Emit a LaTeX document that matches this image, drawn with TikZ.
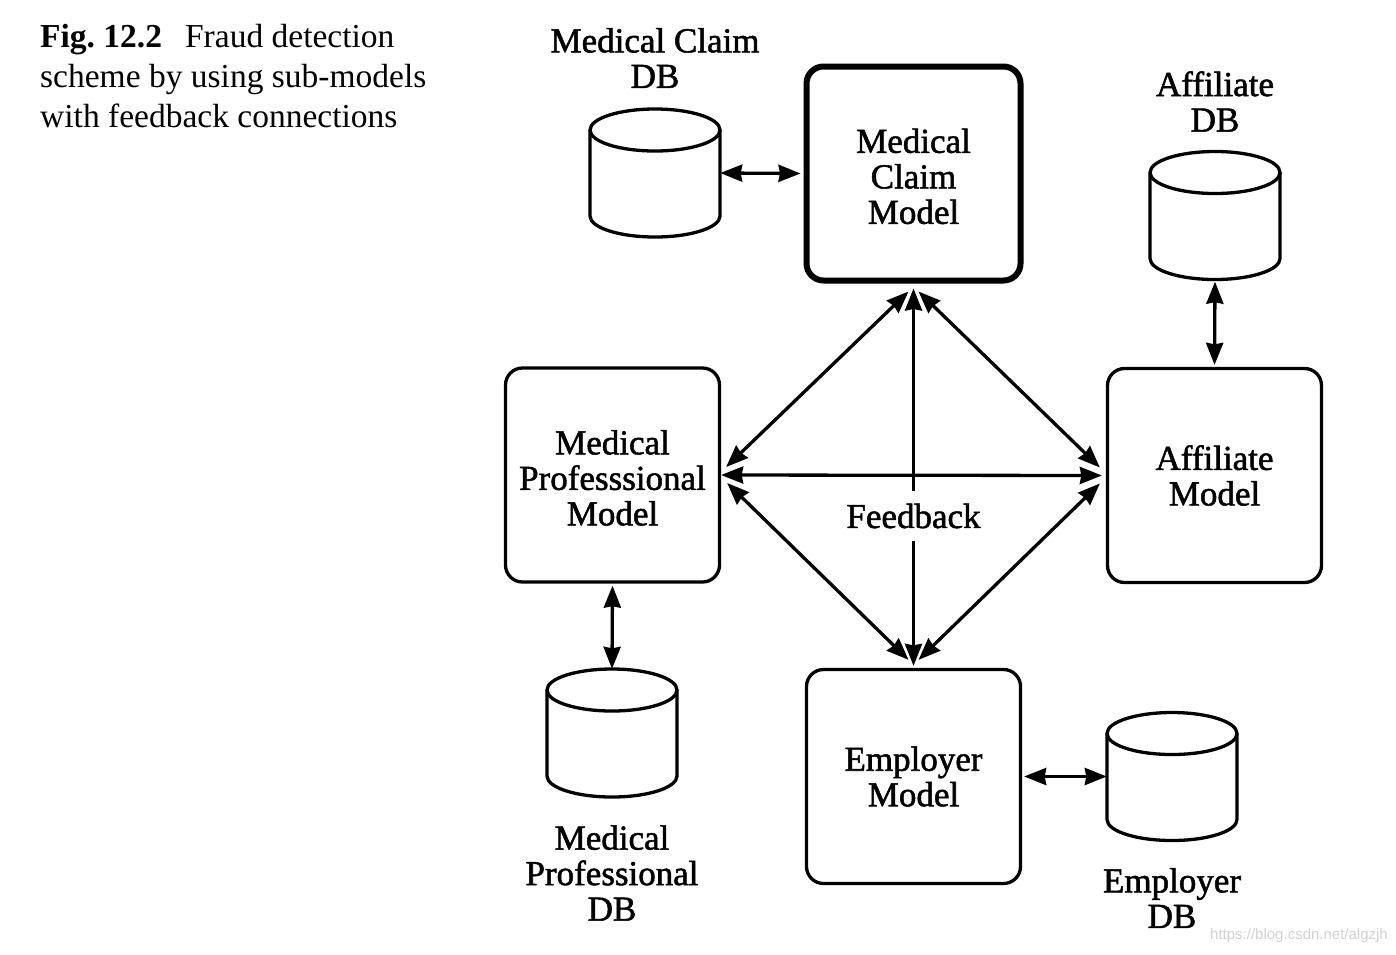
\documentclass[tikz,border=0pt]{standalone}
\usepackage{fontspec}
\setmainfont{Liberation Serif}
\newfontfamily\diagfont[FakeBold=1.5]{Liberation Serif}
\newfontfamily\wmfont{Liberation Sans}
\usetikzlibrary{arrows.meta}
\newcommand\dbcyl[3]{%
  \node[dbbox] (#1) at (#2,#3) {};
  \draw[cyl] (#2,#3+43) ellipse [x radius=65, y radius=21];
  \draw[cyl] (#2-65,#3+43) -- (#2-65,#3-43) arc[start angle=180, end angle=360, x radius=65, y radius=21] -- (#2+65,#3+43);
}
\newcommand\lowerfirst{\rule{0pt}{30pt}}
\frenchspacing
\begin{document}
\begin{tikzpicture}[x=1pt,y=1pt,
  model/.style={draw, line width=3.3pt, rounded corners=17pt, minimum width=214pt, minimum height=214pt, align=center, inner sep=0pt, font=\diagfont\fontsize{35}{35.5}\selectfont},
  dbbox/.style={minimum width=130pt, minimum height=128pt, inner sep=0pt},
  cyl/.style={line width=3.3pt},
  lbl/.style={align=center, inner sep=0pt, font=\diagfont\fontsize{35}{35.5}\selectfont},
  mytip/.tip={Stealth[length=22pt,width=17pt,inset=1.5pt]},
  link/.style={line width=3.3pt, mytip-mytip},
  captext/.style={anchor=base west, inner sep=0pt, font=\fontsize{33.5}{40}\selectfont}
]
\useasboundingbox (0,0) rectangle (1396,-954);

% caption
\node[captext] (c1) at (40,-47) {\textbf{Fig. 12.2}\hspace{23pt}Fraud detection};
\node[captext] (c2) at (40,-87) {scheme by using sub-models};
\node[captext] (c3) at (40,-127) {with feedback connections};

% models
\node[model, line width=6pt] (mc) at (913.5,-173.5) {\lowerfirst Medical\\Claim\\Model};
\node[model] (mp) at (612.5,-475) {\lowerfirst Medical\\Professsional\\Model};
\node[model] (af) at (1214.5,-475.5) {Affiliate\\Model};
\node[model] (em) at (913.5,-776.5) {Employer\\Model};

% databases
\dbcyl{cdb}{655}{-173}
\dbcyl{adb}{1215}{-215.5}
\dbcyl{mpdb}{612}{-733}
\dbcyl{edb}{1172}{-776.5}

\node[lbl] (cdbl) at (655,-58) {Medical Claim\\DB};
\node[lbl] (adbl) at (1215,-101.5) {Affiliate\\DB};
\node[lbl] (mpdbl) at (612,-873) {Medical\\Professional\\DB};
\node[lbl] (edbl) at (1172,-898) {Employer\\DB};

% database links
\draw[link, shorten >=3pt] (cdb.east) -- (mc.west);
\draw[link, shorten <=2pt, shorten >=2pt] (adb.south) -- (af.north);
\draw[link, shorten <=2pt] (mp.south) -- (mpdb.north);
\draw[link, shorten <=2pt] (em.east) -- (edb.west);

% feedback links
\draw[link, shorten <=5pt, shorten >=2pt] (mc.south) -- (em.north);
\draw[link] ([shift={(-5,-8)}]mc.south) -- ([shift={(5,8)}]mp.east);
\draw[link] ([shift={(5,-8)}]mc.south) -- ([shift={(-6,8)}]af.west);
\draw[link, shorten >=4pt] (mp.east) -- (af.west);
\draw[link] ([shift={(6,-8)}]mp.east) -- ([shift={(-5,8)}]em.north);
\draw[link] ([shift={(-6,-8)}]af.west) -- ([shift={(5,8)}]em.north);

\node[fill=white, inner xsep=3pt, inner ysep=0pt, minimum height=50pt, font=\diagfont\fontsize{35}{35.5}\selectfont] (fb) at (913.5,-516) {Feedback};

% watermark
\node[anchor=east, text=black!18, inner sep=0pt, font=\wmfont\fontsize{15}{15}\selectfont] (wm) at (1388,-936) {https://blog.csdn.net/algzjh};
\end{tikzpicture}
\end{document}
